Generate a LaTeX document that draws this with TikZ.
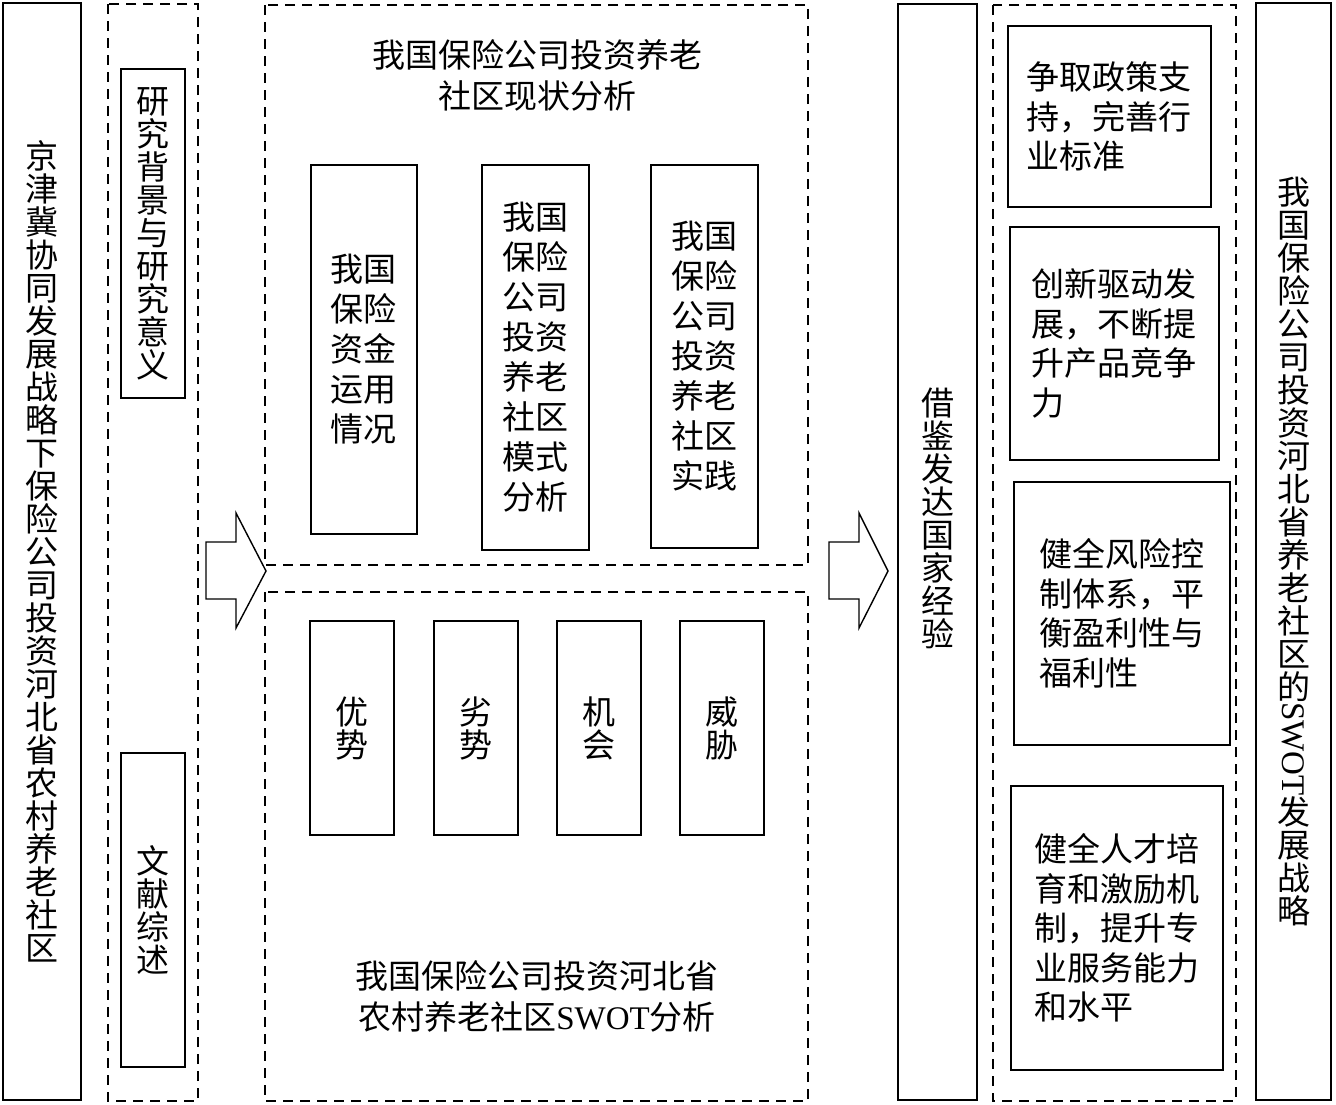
\documentclass[tikz,border=0pt]{standalone}
\usepackage{graphicx, fontspec}
\setmainfont{Noto Sans CJK SC}
\newfontfamily\latinfont{Liberation Serif}
\XeTeXlinebreaklocale "zh"
\XeTeXlinebreakskip = 0pt plus 1pt

\begin{document}
\begin{tikzpicture}[x=1pt, y=-1pt,
  solidbox/.style={draw, line width=1.4pt, inner sep=0pt},
  dashbox/.style={draw, line width=1.4pt, dash pattern=on 10pt off 7pt},
  onecol/.style={text width=34pt, align=center, font=\fontsize{33}{33}\selectfont},
  twocol/.style={text width=67pt, align=center, font=\fontsize{33}{40}\selectfont},
  fivecol/.style={text width=166pt, align=left, font=\fontsize{33}{39.5}\selectfont},
  grouptitle/.style={align=center, font=\fontsize{33}{41}\selectfont},
  blockarrow/.style={draw, line width=1.4pt, line join=miter}]
\useasboundingbox (0,0) rectangle (1336,1104);

% left column: topic
\node[solidbox, onecol, minimum width=78pt, minimum height=1097pt] (topic) at (42,551.5) {京津冀协同发展战略下保险公司投资河北省农村养老社区};

% background
\draw[dashbox] (108,4) rectangle (198,1101);
\node[solidbox, onecol, minimum width=64pt, minimum height=329pt] (background) at (153,233.5) {研究背景与研究意义};
\node[solidbox, onecol, minimum width=64pt, minimum height=314pt] (review) at (153,910) {文献综述};

\draw[blockarrow] (206,542) -- (236,542) -- (236,513) -- (266,571) -- (236,628) -- (236,599) -- (206,599) -- cycle;

% status analysis
\draw[dashbox] (265,5) rectangle (808,565);
\node[grouptitle] (statustitle) at (537,75) {我国保险公司投资养老\\社区现状分析};
\node[solidbox, twocol, minimum width=106pt, minimum height=369pt] (funds) at (364,349.5) {我国保险资金运用情况};
\node[solidbox, twocol, minimum width=107pt, minimum height=385pt] (mode) at (535.5,357.5) {我国保险公司投资养老社区模式分析};
\node[solidbox, twocol, minimum width=107pt, minimum height=383pt] (practice) at (704.5,356.5) {我国保险公司投资养老社区实践};

% SWOT analysis
\draw[dashbox] (265,592) rectangle (808,1101);
\node[solidbox, onecol, minimum width=84pt, minimum height=214pt] (strength) at (352,728) {优势};
\node[solidbox, onecol, minimum width=84pt, minimum height=214pt] (weakness) at (476,728) {劣势};
\node[solidbox, onecol, minimum width=84pt, minimum height=214pt] (opportunity) at (599,728) {机会};
\node[solidbox, onecol, minimum width=84pt, minimum height=214pt] (threat) at (722,728) {威胁};
\node[grouptitle] (swottitle) at (537,996) {我国保险公司投资河北省\\农村养老社区{\latinfont SWOT}分析};

\draw[blockarrow] (829,542) -- (859,542) -- (859,513) -- (888,571) -- (859,628) -- (859,599) -- (829,599) -- cycle;

% experience
\node[solidbox, minimum width=79pt, minimum height=1096pt] (experience) at (937.5,552) {};
\node[onecol] (experiencetext) at (937.5,518) {借鉴发达国家经验};

% strategies
\draw[dashbox] (993,5) rectangle (1236,1101);
\node[solidbox, fivecol, minimum width=203pt, minimum height=181pt] (policy) at (1109.5,116.5) {争取政策支持，完善行业标准};
\node[solidbox, fivecol, minimum width=209pt, minimum height=233pt] (innovate) at (1114.5,343.5) {创新驱动发展，不断提升产品竞争力};
\node[solidbox, fivecol, minimum width=216pt, minimum height=263pt] (risk) at (1122,613.5) {健全风险控制体系，平衡盈利性与福利性};
\node[solidbox, fivecol, minimum width=212pt, minimum height=284pt] (talent) at (1117,928) {健全人才培育和激励机制，提升专业服务能力和水平};

% right column: conclusion
\node[solidbox, onecol, minimum width=75pt, minimum height=1097pt] (strategy) at (1293.5,551.5) {我国保险公司投资河北省养老社区的\\\rotatebox[origin=c]{-90}{\latinfont SWOT}\\发展战略};
\end{tikzpicture}
\end{document}
